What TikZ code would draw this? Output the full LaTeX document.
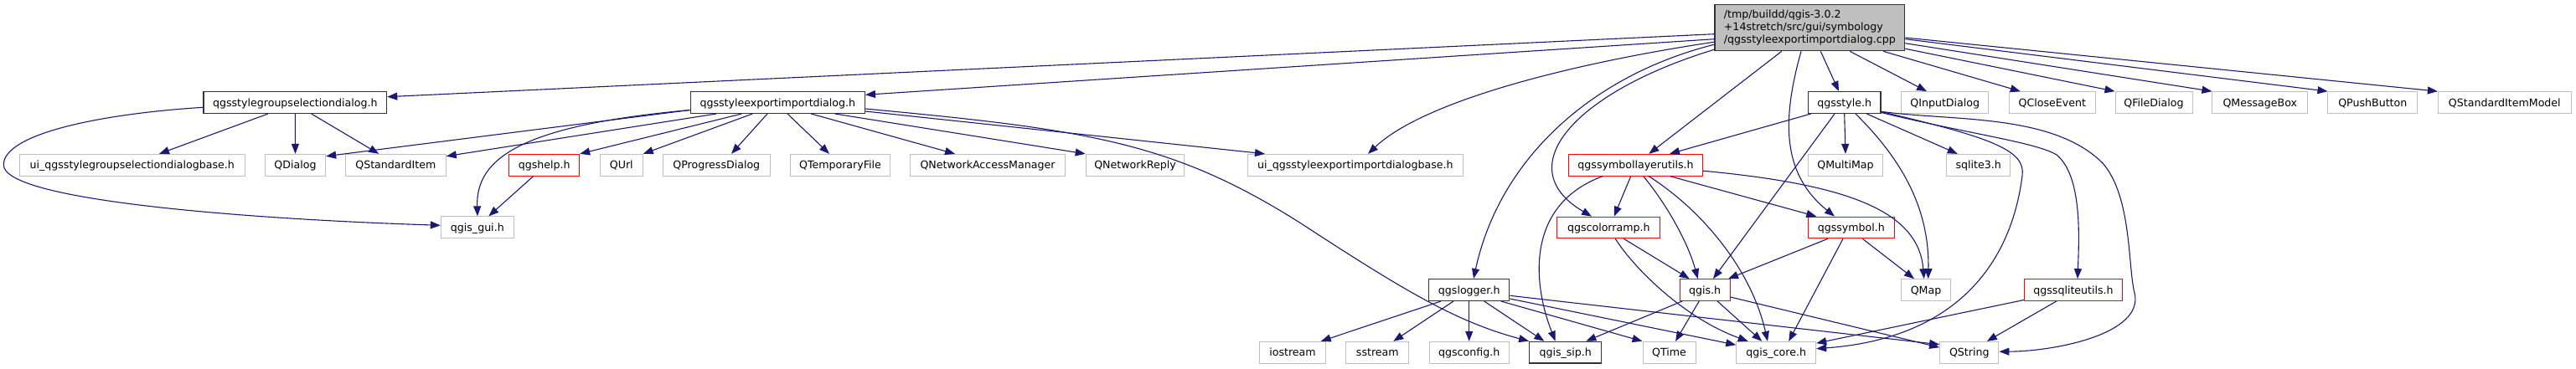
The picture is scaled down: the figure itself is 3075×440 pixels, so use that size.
\documentclass[tikz,border=0pt]{standalone}
\usepackage{fontspec}
\setmainfont{DejaVu Sans}
\usetikzlibrary{arrows.meta}
\definecolor{edgec}{HTML}{191970}
\definecolor{grayb}{HTML}{BFBFBF}
\definecolor{darkb}{HTML}{333333}
\definecolor{redb}{HTML}{FF0000}
\begin{document}
\begin{tikzpicture}[x=1pt,y=-1pt,
  every node/.style={font={\fontsize{12.6}{14.7}\selectfont}},
  base/.style={rectangle, line width=1pt, inner sep=0pt, minimum height=25.7pt, text height=10.5pt, text depth=1.3pt, fill=white},
  ext/.style={base, draw=grayb},
  doc/.style={base, draw=darkb, line width=1.3pt},
  redn/.style={base, draw=redb},
  root/.style={rectangle, line width=1.3pt, draw=darkb, fill=grayb, inner sep=0pt, minimum height=55pt, align=left},
  edge/.style={draw=edgec, line width=1.1pt, -{Triangle[length=12pt,width=9pt]}}]
\useasboundingbox (0,0) rectangle (3075,440);

% row 0
\node[root, minimum width=226.7pt] (main) at (2160.3,33.2) {/tmp/buildd/qgis-3.0.2\\+14stretch/src/gui/symbology\\/qgsstyleexportimportdialog.cpp};
% row 1
\node[doc, minimum width=218.7pt] (grpsel) at (352.3,122.5) {qgsstylegroupselectiondialog.h};
\node[doc, minimum width=208pt] (expimp) at (928.3,122.5) {qgsstyleexportimportdialog.h};
\node[doc, minimum width=86.7pt] (style) at (2201.7,122.5) {qgsstyle.h};
\node[ext, minimum width=104pt] (qinput) at (2321.7,122.5) {QInputDialog};
\node[ext, minimum width=103pt] (qclose) at (2449.8,122.5) {QCloseEvent};
\node[ext, minimum width=92pt] (qfile) at (2571,122.5) {QFileDialog};
\node[ext, minimum width=113.7pt] (qmsg) at (2697.8,122.5) {QMessageBox};
\node[ext, minimum width=106.7pt] (qpush) at (2832.3,122.5) {QPushButton};
\node[ext, minimum width=159pt] (qsim) at (2989.8,122.5) {QStandardItemModel};
% row 2
\node[ext, minimum width=268.7pt] (uigrp) at (157.7,197.2) {ui\_qgsstylegroupselectiondialogbase.h};
\node[ext, minimum width=72.3pt] (qdialog) at (352.5,197.2) {QDialog};
\node[ext, minimum width=120pt] (qsitem) at (472.3,197.2) {QStandardItem};
\node[redn, minimum width=84pt] (help) at (649.7,197.2) {qgshelp.h};
\node[ext, minimum width=51pt] (qurl) at (741.8,197.2) {QUrl};
\node[ext, minimum width=128pt] (qprog) at (855.3,197.2) {QProgressDialog};
\node[ext, minimum width=118.7pt] (qtemp) at (1003,197.2) {QTemporaryFile};
\node[ext, minimum width=185.3pt] (qnam) at (1179,197.2) {QNetworkAccessManager};
\node[ext, minimum width=117.7pt] (qnr) at (1355,197.2) {QNetworkReply};
\node[ext, minimum width=257pt] (uiexp) at (1617.8,197.2) {ui\_qgsstyleexportimportdialogbase.h};
\node[redn, minimum width=160.4pt] (slu) at (1952.5,197.2) {qgssymbollayerutils.h};
\node[ext, minimum width=89.4pt] (qmm) at (2203,197.2) {QMultiMap};
\node[ext, minimum width=76pt] (sqlite) at (2361.7,197.2) {sqlite3.h};
% row 3
\node[ext, minimum width=87pt] (gui) at (569.8,271.7) {qgis\_gui.h};
\node[redn, minimum width=122.7pt] (ramp) at (1920.3,272) {qgscolorramp.h};
\node[redn, minimum width=103pt] (symbol) at (2209.8,272) {qgssymbol.h};
% row 4
\node[doc, minimum width=96pt] (logger) at (1753.7,346.5) {qgslogger.h};
\node[redn, minimum width=60pt] (qgis) at (2035,346.5) {qgis.h};
\node[ext, minimum width=58.7pt] (qmap) at (2299,346.5) {QMap};
\node[redn, minimum width=117.3pt] (sqlu) at (2475,346.5) {qgssqliteutils.h};
% row 5
\node[ext, minimum width=78.7pt] (iostream) at (1543,421.2) {iostream};
\node[ext, minimum width=74.7pt] (sstream) at (1644.3,421.2) {sstream};
\node[ext, minimum width=94.7pt] (config) at (1753.7,421.2) {qgsconfig.h};
\node[doc, minimum width=86pt] (sip) at (1868.7,421.2) {qgis\_sip.h};
\node[ext, minimum width=63pt] (qtime) at (1992.5,421.2) {QTime};
\node[ext, minimum width=95pt] (core) at (2120.2,421.2) {qgis\_core.h};
\node[ext, minimum width=70.3pt] (qstring) at (2350.8,421.2) {QString};

% main
\draw[edge] ([yshift=-7.5pt]main.west) -- ([yshift=6.8pt]grpsel.east);
\draw[edge] ([yshift=-13.5pt]main.west) -- ([yshift=9.2pt]expimp.east);
\draw[edge] ([yshift=-17pt]main.west) .. controls (1880,75) and (1700,120) .. ([xshift=15.2pt]uiexp.north);
\draw[edge] ([yshift=-20pt]main.west) .. controls (1900,90) and (1790,190) .. ([xshift=5.3pt]logger.north);
\draw[edge] ([yshift=-26pt]main.west) .. controls (1880,110) and (1800,200) .. ([xshift=-20.3pt]ramp.north);
\draw[edge] ([xshift=-33.6pt]main.south) -- ([xshift=15.8pt]slu.north);
\draw[edge] ([xshift=-10.3pt]main.south) .. controls (2125,150) and (2130,210) .. ([xshift=-19.8pt]symbol.north);
\draw[edge] ([xshift=13pt]main.south) -- ([xshift=-6.7pt]style.north);
\draw[edge] ([xshift=48pt]main.south) -- ([xshift=-21.7pt]qinput.north);
\draw[edge] ([xshift=88pt]main.south) -- ([xshift=-38pt]qclose.north);
\draw[edge] ([yshift=-25pt]main.east) -- (qfile.north west);
\draw[edge] ([yshift=-18.5pt]main.east) -- (qmsg.north west);
\draw[edge] ([yshift=-13.5pt]main.east) -- (qpush.north west);
\draw[edge] ([yshift=-11.8pt]main.east) -- (qsim.north west);

% grpsel
\draw[edge] ([xshift=-32.3pt]grpsel.south) -- ([xshift=32.3pt]uigrp.north);
\draw[edge] (grpsel.south) -- (qdialog.north);
\draw[edge] ([xshift=19.4pt]grpsel.south) -- ([xshift=-20pt]qsitem.north);
\draw[edge] ([yshift=-5.8pt]grpsel.west) .. controls (120,136) and (4,160) .. (4.3,197) .. controls (4,240) and (300,262) .. ([yshift=2.4pt]gui.west);

% expimp
\draw[edge] ([yshift=-9pt]expimp.west) -- ([yshift=10.5pt]qdialog.east);
\draw[edge] ([xshift=-73.3pt]expimp.south) -- ([yshift=10.5pt]qsitem.east);
\draw[edge] ([yshift=-9pt]expimp.west) .. controls (620,150) and (568,190) .. ([xshift=0.2pt]gui.north);
\draw[edge] ([xshift=-43pt]expimp.south) -- (help.north east);
\draw[edge] ([xshift=-30pt]expimp.south) -- (qurl.north east);
\draw[edge] ([xshift=-12.3pt]expimp.south) -- ([xshift=17.7pt]qprog.north);
\draw[edge] ([xshift=11.7pt]expimp.south) -- ([xshift=-13pt]qtemp.north);
\draw[edge] ([xshift=40pt]expimp.south) -- ([xshift=-39pt]qnam.north);
\draw[edge] ([xshift=68.4pt]expimp.south) -- (qnr.north west);
\draw[edge] ([yshift=-10.5pt]expimp.east) -- ([xshift=-107.8pt]uiexp.north);
\draw[edge] ([yshift=-7.5pt]expimp.east) .. controls (1300,155) and (1400,170) .. (1553,267) .. controls (1680,350) and (1740,385) .. (sip.north west);

% help
\draw[edge] ([xshift=-13pt]help.south) -- ([xshift=13.5pt]gui.north);

% style
\draw[edge] ([xshift=-40pt]style.south) -- ([xshift=40.5pt]slu.north);
\draw[edge] ([xshift=-11.7pt]style.south) -- ([xshift=10pt]qgis.north);
\draw[edge] (style.south) -- (qmm.north);
\draw[edge] ([xshift=13.3pt]style.south) .. controls (2280,200) and (2303,260) .. ([xshift=2.7pt]qmap.north);
\draw[edge] ([xshift=26.6pt]style.south) -- ([xshift=-25pt]sqlite.north);
\draw[edge] ([yshift=-11pt]style.east) .. controls (2380,165) and (2418,180) .. (2414,210) .. controls (2400,320) and (2330,405) .. ([yshift=4.5pt]core.east);
\draw[edge] ([yshift=-12pt]style.east) .. controls (2350,160) and (2430,170) .. (2455,185) .. controls (2485,210) and (2482,280) .. ([xshift=5pt]sqlu.north);
\draw[edge] ([yshift=-10.8pt]style.east) .. controls (2330,145) and (2450,135) .. (2510,195) .. controls (2545,235) and (2540,320) .. (2548,350) .. controls (2560,400) and (2450,420) .. ([yshift=1pt]qstring.east);

% slu
\draw[edge] ([xshift=-5.8pt]slu.south) -- ([xshift=6.4pt]ramp.north);
\draw[edge] ([xshift=9.2pt]slu.south) .. controls (1990,245) and (2015,290) .. ([xshift=-8.3pt]qgis.north);
\draw[edge] ([xshift=15.5pt]slu.south) .. controls (2030,250) and (2090,320) .. ([xshift=-10.2pt]core.north);
\draw[edge] ([xshift=40.8pt]slu.south) -- ([xshift=-41.5pt]symbol.north);
\draw[edge] ([yshift=-7pt]slu.east) .. controls (2200,220) and (2290,250) .. ([xshift=-2.3pt]qmap.north);
\draw[edge] ([xshift=-39.2pt]slu.south) .. controls (1820,245) and (1830,340) .. ([xshift=-12pt]sip.north);

% ramp
\draw[edge] ([xshift=18pt]ramp.south) -- ([xshift=-18.3pt]qgis.north);
\draw[edge] ([xshift=8pt]ramp.south) .. controls (1950,320) and (2010,380) .. ([xshift=-33.5pt]core.north);

% symbol
\draw[edge] ([xshift=-28pt]symbol.south) -- ([xshift=28pt]qgis.north);
\draw[edge] ([xshift=-9.8pt]symbol.south) -- ([xshift=15pt]core.north);
\draw[edge] ([xshift=13.5pt]symbol.south) -- ([xshift=-14pt]qmap.north);

% qgis
\draw[edge] ([xshift=-26.7pt]qgis.south) -- ([xshift=24.6pt]sip.north);
\draw[edge] ([xshift=-6.7pt]qgis.south) -- ([xshift=7.5pt]qtime.north);
\draw[edge] ([xshift=15pt]qgis.south) -- ([xshift=-17pt]core.north);
\draw[edge] ([yshift=-8.5pt]qgis.east) -- ([yshift=6pt]qstring.west);

% logger
\draw[edge] ([xshift=-33.7pt]logger.south) -- ([xshift=33.7pt]iostream.north);
\draw[edge] ([xshift=-18.7pt]logger.south) -- ([xshift=19pt]sstream.north);
\draw[edge] (logger.south) -- (config.north);
\draw[edge] ([xshift=18pt]logger.south) -- ([xshift=-25.4pt]sip.north);
\draw[edge] ([xshift=38pt]logger.south) -- (qtime.north west);
\draw[edge] ([yshift=-10.5pt]logger.east) -- ([yshift=9pt]core.west);
\draw[edge] ([yshift=-6.8pt]logger.east) -- ([yshift=9.5pt]qstring.west);

% sqlu
\draw[edge] ([yshift=-12pt]sqlu.west) -- ([yshift=11pt]core.east);
\draw[edge] ([xshift=-20pt]sqlu.south) -- ([xshift=21pt]qstring.north);
\end{tikzpicture}
\end{document}
